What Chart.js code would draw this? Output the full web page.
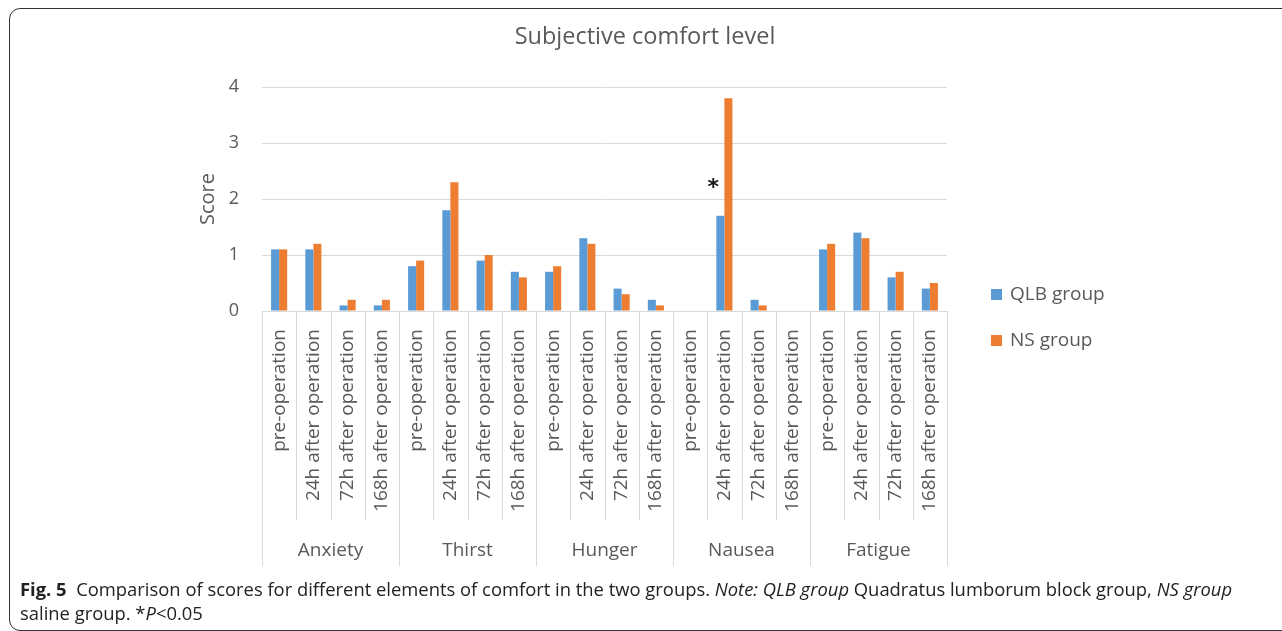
<!DOCTYPE html>
<html>
<head>
<meta charset="utf-8">
<script src="https://cdn.jsdelivr.net/npm/chart.js@4"></script>
<style>
  body { margin: 0; background: #fff; width: 1282px; height: 631px; overflow: hidden; position: relative; font-family: "Open Sans", sans-serif; }
  #frame { position: absolute; left: 9px; top: 8px; width: 1300px; height: 621px; border: 1.3px solid #333; border-radius: 11px; }
  #wrap { position: absolute; left: 0; top: 0; width: 1282px; height: 631px; }
  #caption { position: absolute; left: 20px; top: 577px; font-size: 18.4px; line-height: 24px; color: #222; width: 1250px; white-space: nowrap; }
  #caption b { font-weight: 700; }
</style>
</head>
<body>
<div id="frame"></div>
<div id="wrap"><canvas id="grafico" width="1282" height="631"></canvas></div>
<div id="caption"><b>Fig. 5</b>&nbsp; Comparison of scores for different elements of comfort in the two groups. <i>Note: QLB group</i> Quadratus lumborum block group, <i>NS group</i><br>saline group. *<i>P</i>&lt;0.05</div>
<script>
const groups = ['Anxiety', 'Thirst', 'Hunger', 'Nausea', 'Fatigue'];
const timepoints = ['pre-operation', '24h after operation', '72h after operation', '168h after operation'];
const qlbScores = [1.1, 1.1, 0.1, 0.1, 0.8, 1.8, 0.9, 0.7, 0.7, 1.3, 0.4, 0.2, 0, 1.7, 0.2, 0, 1.1, 1.4, 0.6, 0.4];
const nsScores = [1.1, 1.2, 0.2, 0.2, 0.9, 2.3, 1.0, 0.6, 0.8, 1.2, 0.3, 0.1, 0, 3.8, 0.1, 0, 1.2, 1.3, 0.7, 0.5];
const yTicks = [0, 1, 2, 3, 4];
const starIndex = 13; // Nausea, 24h after operation
const chartTitle = 'Subjective comfort level';

const labels = groups.flatMap(() => timepoints);
const cinza = '#595959';
const linha = '#d9d9d9';

// desenha titulo, separadores, nomes dos grupos, legenda e o asterisco
const extras = {
  id: 'extras',
  afterDraw(chart) {
    const c = chart.ctx;
    const x = chart.scales.x;
    const y = chart.scales.y;
    const area = chart.chartArea;
    const n = labels.length;
    const step = (area.right - area.left) / n;

    c.save();
    c.fillStyle = cinza;
    c.font = '23.5px "Open Sans"';
    c.textAlign = 'center';
    c.textBaseline = 'middle';
    c.fillText(chartTitle, 645, 37);

    c.strokeStyle = linha;
    c.lineWidth = 1;
    for (let i = 0; i <= n; i++) {
      const px = Math.round(area.left + i * step) + 0.5;
      const fim = (i % timepoints.length === 0) ? area.bottom + 255 : area.bottom + 209;
      c.beginPath();
      c.moveTo(px, area.bottom);
      c.lineTo(px, fim);
      c.stroke();
    }

    c.font = '19px "Open Sans"';
    groups.forEach((g, k) => {
      const a = x.getPixelForValue(k * timepoints.length);
      const b = x.getPixelForValue(k * timepoints.length + timepoints.length - 1);
      c.fillText(g, (a + b) / 2, area.bottom + 240);
    });

    // legenda
    c.textAlign = 'left';
    chart.data.datasets.forEach((ds, k) => {
      const ly = 295 + k * 46;
      c.fillStyle = ds.backgroundColor;
      c.fillRect(area.right + 44, ly - 6, 11, 11);
      c.fillStyle = cinza;
      c.fillText(ds.label, area.right + 63, ly);
    });

    // asterisco
    c.fillStyle = '#111';
    c.font = 'bold 22px "DejaVu Sans"';
    c.textAlign = 'center';
    c.fillText('*', x.getPixelForValue(starIndex) - 11, y.getPixelForValue(qlbScores[starIndex]) - 28);
    c.restore();
  }
};

const ctx = document.getElementById('grafico').getContext('2d');

new Chart(ctx, {
  type: 'bar',
  data: {
    labels: labels,
    datasets: [
      { label: 'QLB group', data: qlbScores, backgroundColor: '#5b9bd5', barPercentage: 1, categoryPercentage: 0.47 },
      { label: 'NS group', data: nsScores, backgroundColor: '#ed7d31', barPercentage: 1, categoryPercentage: 0.47 }
    ]
  },
  options: {
    responsive: false,
    animation: false,
    layout: { padding: { left: 180, right: 335, top: 87, bottom: 65 } },
    plugins: {
      legend: { display: false },
      tooltip: { enabled: false },
      title: { display: false }
    },
    scales: {
      x: {
        grid: { display: false },
        border: { display: true, color: linha },
        ticks: {
          autoSkip: false,
          minRotation: 90,
          maxRotation: 90,
          padding: 10,
          color: cinza,
          font: { family: 'Open Sans', size: 19 }
        },
        afterFit(scale) { scale.height = 255; }
      },
      y: {
        min: 0,
        max: 4,
        afterBuildTicks(scale) { scale.ticks = yTicks.map(v => ({ value: v })); },
        grid: { color: linha, drawTicks: false },
        border: { display: false },
        ticks: { padding: 23, color: cinza, font: { family: 'Open Sans', size: 18 } },
        title: {
          display: true,
          text: 'Score',
          color: cinza,
          font: { family: 'Open Sans', size: 20, lineHeight: 1.2 },
          padding: { top: 16, bottom: 0 }
        },
        afterFit(scale) { scale.width = 82; }
      }
    }
  },
  plugins: [extras]
});
</script>
</body>
</html>
